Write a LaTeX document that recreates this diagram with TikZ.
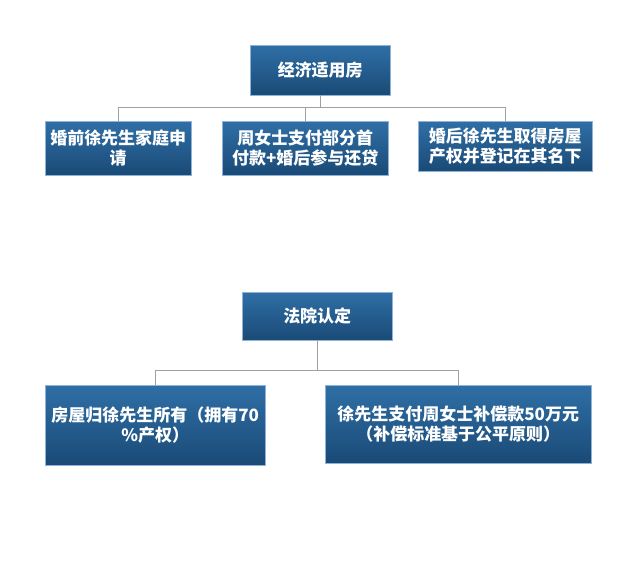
\documentclass[tikz,border=0pt]{standalone}
\usepackage{fontspec}
\newfontfamily\cjk{Noto Sans CJK SC}
\usetikzlibrary{positioning}
\definecolor{boxtop}{HTML}{2F6FA6}
\definecolor{boxbot}{HTML}{1A4A76}
\definecolor{boxline}{HTML}{8FB3D6}
\definecolor{linkgray}{HTML}{A0A0A0}

\begin{document}
\begin{tikzpicture}
[x=0.03cm, y=-0.03cm,
block/.style ={rectangle, draw=boxline, thin,
top color=boxtop, bottom color=boxbot,
text=white, font=\cjk\bfseries\fontsize{14.5}{17}\selectfont,
align=center, inner sep=1pt, anchor=north west},
link/.style ={draw=linkgray, thick},
]
\useasboundingbox (0,0) rectangle (641,580);

% upper tree
\node [block, minimum width=140*0.03cm, minimum height=50*0.03cm] (jj) at (250,45) {经济适用房};
\node [block, minimum width=146*0.03cm, minimum height=54*0.03cm] (hq) at (45,121) {婚前徐先生家庭申\\请};
\node [block, minimum width=166*0.03cm, minimum height=54*0.03cm] (zn) at (222,121) {周女士支付部分首\\付款+婚后参与还贷};
\node [block, minimum width=174*0.03cm, minimum height=50*0.03cm] (hh) at (418,121) {婚后徐先生取得房屋\\产权并登记在其名下};

% lower tree
\node [block, minimum width=150*0.03cm, minimum height=48*0.03cm] (fy) at (242,292) {法院认定};
\node [block, minimum width=220*0.03cm, minimum height=80*0.03cm] (fw) at (45,385) {房屋归徐先生所有（拥有70\\\%产权）};
\node [block, minimum width=266*0.03cm, minimum height=78*0.03cm] (zf) at (325,385) {徐先生支付周女士补偿款50万元\\（补偿标准基于公平原则）};

\coordinate (j1) at ([yshift=-12*0.03cm]jj.south);
\coordinate (f1) at ([yshift=-30*0.03cm]fy.south);

\draw [link] (jj.south) -- (j1);
\draw [link] (hq.north) |- (j1) -| (hh.north);
\draw [link] (zn.north) -- (zn.north |- j1);
\draw [link] (fy.south) -- (f1);
\draw [link] (fw.north) |- (f1) -| (zf.north);
\end{tikzpicture}
\end{document}
